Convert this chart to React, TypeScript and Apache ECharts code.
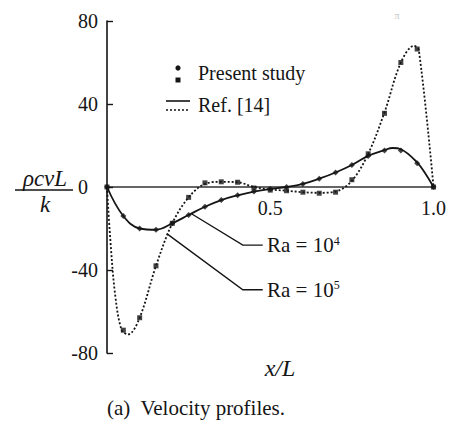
import React, { useEffect, useRef } from "react";
import * as echarts from "echarts";

// Ra = 10^4 : reference curve (Ref. [14]) and present-study points
const ra4RefX = [0, 0.05, 0.1, 0.15, 0.2, 0.25, 0.3, 0.35, 0.4, 0.45, 0.5, 0.55, 0.6, 0.65, 0.7, 0.75, 0.8, 0.85, 0.875, 0.9, 0.95, 0.975, 1.0];
const ra4RefY = [0, -14, -20, -20.6, -17.5, -13.5, -9.5, -6.3, -4, -2.2, -1, 0, 1.5, 4, 7, 10.6, 15, 17.8, 18.8, 18.2, 11.8, 6.5, 0];
const ra4PtsX = [0, 0.05, 0.1, 0.15, 0.2, 0.25, 0.3, 0.35, 0.4, 0.45, 0.5, 0.55, 0.6, 0.65, 0.7, 0.75, 0.8, 0.85, 0.9, 0.95, 1.0];
const ra4PtsY = [0, -14, -20, -20.6, -17.5, -13.5, -9.5, -6.3, -4, -2.2, -1, 0, 1.5, 4, 7, 10.6, 15, 17.6, 17.6, 11.5, 0];

// Ra = 10^5
const ra5RefX = [0, 0.01, 0.025, 0.045, 0.065, 0.1, 0.15, 0.2, 0.25, 0.3, 0.35, 0.4, 0.45, 0.5, 0.55, 0.6, 0.65, 0.7, 0.75, 0.8, 0.85, 0.9, 0.94, 0.955, 1.0];
const ra5RefY = [0, -25, -52, -69, -71, -63, -38, -17.5, -5, 1.5, 2.5, 2.3, 0, -1.2, -1.8, -2.5, -2.8, -2.2, 3, 16, 36, 60, 68, 66, 0];
const ra5PtsX = [0, 0.05, 0.1, 0.15, 0.2, 0.25, 0.3, 0.35, 0.4, 0.45, 0.5, 0.55, 0.6, 0.65, 0.7, 0.75, 0.8, 0.85, 0.9, 0.95, 1.0];
const ra5PtsY = [0, -69, -63, -38, -17.5, -5, 2, 2.5, 2.3, -0.5, -1.5, -1.8, -2.5, -3, -2.5, 3.5, 16, 35.5, 60, 66.5, 0];

const yTicks = [-80, -40, 0, 40, 80];
const xTickLabels = ["0.5", "1.0"];

const zip = (xs: number[], ys: number[]) => xs.map((x, i) => [x, ys[i]]);

const INK = "#151515";
const FONT = "Liberation Serif";

export default function App() {
  const ref = useRef<HTMLDivElement>(null);
  useEffect(() => {
    const chart = echarts.init(ref.current!, null, { renderer: "svg" });
    chart.setOption({
      animation: false,
      backgroundColor: "#ffffff",
      grid: { left: 107, top: 21, width: 327, height: 332, containLabel: false },
      xAxis: {
        type: "value",
        min: 0,
        max: 1,
        interval: 0.5,
        offset: -166,
        axisLine: { onZero: false, lineStyle: { color: "#333", width: 1.6 } },
        axisTick: { show: false },
        splitLine: { show: false },
        axisLabel: {
          margin: 11,
          fontFamily: FONT,
          fontSize: 20,
          color: INK,
          formatter: (v: number) => (v === 0.5 ? xTickLabels[0] : v === 1 ? xTickLabels[1] : ""),
        },
      },
      yAxis: {
        type: "value",
        min: yTicks[0],
        max: yTicks[yTicks.length - 1],
        interval: 40,
        axisLine: { onZero: false, lineStyle: { color: INK, width: 1.6 } },
        axisTick: { show: true, inside: true, length: 6, lineStyle: { color: INK, width: 1.4 } },
        splitLine: { show: false },
        axisLabel: {
          margin: 9,
          fontFamily: FONT,
          fontSize: 20,
          color: INK,
          formatter: (v: number) => (v === 0 ? "{z|0}" : String(v)),
          rich: { z: { fontFamily: FONT, fontSize: 20, color: INK, padding: [0, 10, 0, 0] } },
        },
      },
      series: [
        {
          type: "line",
          data: zip(ra4RefX, ra4RefY),
          smooth: 0.4,
          showSymbol: false,
          lineStyle: { color: INK, width: 1.8 },
          z: 3,
        },
        {
          type: "line",
          data: zip(ra5RefX, ra5RefY),
          smooth: 0.35,
          showSymbol: false,
          lineStyle: { color: INK, width: 1.8, type: [2, 2] },
          z: 3,
        },
        {
          type: "scatter",
          data: zip(ra4PtsX, ra4PtsY),
          symbol: "diamond",
          symbolSize: 6,
          itemStyle: { color: INK },
          z: 4,
        },
        {
          type: "scatter",
          data: zip(ra5PtsX, ra5PtsY),
          symbol: "rect",
          symbolSize: 5,
          itemStyle: { color: INK },
          z: 4,
        },
      ],
    });

    const p = (x: number, y: number) => chart.convertToPixel({ gridIndex: 0 }, [x, y]) as number[];
    const a1 = [p(0.26, -13), p(0.416, -28), p(0.477, -28)];
    const a2 = [p(0.183, -22.5), p(0.416, -49.5), p(0.477, -49.5)];
    const t1 = p(0.49, -28);
    const t2 = p(0.49, -49.5);

    const raRich = {
      a: { font: `21px "${FONT}"`, fill: INK },
      s: { font: `12px "${FONT}"`, fill: INK, verticalAlign: "top", padding: [0, 0, 9, 0] },
    };

    chart.setOption({
      graphic: [
        // legend
        { type: "circle", shape: { cx: 178, cy: 68, r: 2.6 }, style: { fill: INK } },
        { type: "rect", shape: { x: 175.5, y: 77.5, width: 5, height: 5 }, style: { fill: INK } },
        { type: "text", x: 198, y: 73, style: { text: "Present study", font: `20px "${FONT}"`, fill: INK, verticalAlign: "middle" } },
        { type: "line", shape: { x1: 166, y1: 101, x2: 190, y2: 101 }, style: { stroke: INK, lineWidth: 1.6 } },
        { type: "line", shape: { x1: 166, y1: 110, x2: 190, y2: 110 }, style: { stroke: INK, lineWidth: 1.6, lineDash: [2, 2] } },
        { type: "text", x: 198, y: 105, style: { text: "Ref. [14]", font: `20px "${FONT}"`, fill: INK, verticalAlign: "middle" } },
        // annotations
        { type: "polyline", shape: { points: a1 }, style: { stroke: INK, lineWidth: 1.4, fill: null } },
        { type: "polyline", shape: { points: a2 }, style: { stroke: INK, lineWidth: 1.4, fill: null } },
        { type: "text", x: t1[0], y: t1[1], style: { text: "{a|Ra = 10}{s|4}", verticalAlign: "middle", rich: raRich } },
        { type: "text", x: t2[0], y: t2[1], style: { text: "{a|Ra = 10}{s|5}", verticalAlign: "middle", rich: raRich } },
        // y axis name as a fraction
        { type: "text", x: 45, y: 178, style: { text: "\u03c1cvL", font: `italic 23px "${FONT}"`, fill: INK, align: "center", verticalAlign: "middle" } },
        { type: "line", shape: { x1: 15, y1: 190, x2: 73, y2: 190 }, style: { stroke: INK, lineWidth: 1.5 } },
        { type: "text", x: 45, y: 204, style: { text: "k", font: `italic 23px "${FONT}"`, fill: INK, align: "center", verticalAlign: "middle" } },
        // x axis name
        { type: "text", x: 280, y: 368, style: { text: "x/L", font: `italic 24px "${FONT}"`, fill: INK, align: "center", verticalAlign: "middle" } },
        // caption
        { type: "text", x: 196, y: 408, style: { text: "(a)  Velocity profiles.", font: `21px "${FONT}"`, fill: INK, align: "center", verticalAlign: "middle" } },
        // faint scan mark
        { type: "text", x: 397, y: 15, style: { text: "\u03c0", font: `10px "${FONT}"`, fill: "#c8c8c8", align: "center", verticalAlign: "middle" } },
      ],
    });
    return () => chart.dispose();
  }, []);
  return <div ref={ref} style={{ position: "fixed", left: 0, top: 0, width: 449, height: 423, background: "#fff" }} />;
}
